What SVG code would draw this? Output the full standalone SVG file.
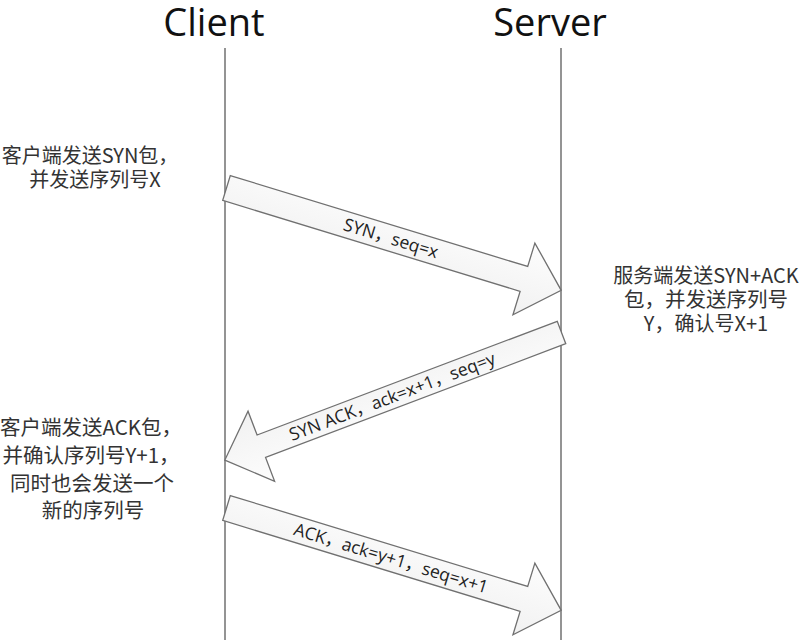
<svg xmlns="http://www.w3.org/2000/svg" width="802" height="640" viewBox="0 0 802 640">
<defs>
<linearGradient id="g" x1="0" y1="0" x2="0" y2="1">
<stop offset="0" stop-color="#fdfdfd"/>
<stop offset="1" stop-color="#f1f1f1"/>
</linearGradient>
<style>
.life{stroke:#707070;stroke-width:1.5;fill:none}
.arrow{fill:url(#g);stroke:#707070;stroke-width:1.3;stroke-linejoin:miter}
.title{font-family:"Open Sans","Liberation Sans",sans-serif;font-size:38px;fill:#111;text-anchor:middle}
.lbl{font-family:"Open Sans","Noto Sans CJK SC",sans-serif;font-size:17.5px;fill:#222;text-anchor:middle}
.note{font-family:"Noto Sans CJK SC",sans-serif;fill:#333;text-anchor:middle}
</style>
</defs>
<rect width="802" height="640" fill="#fff"/>
<g id="client">
<text class="title" x="214" y="36">Client</text>
<line class="life" x1="225" y1="48" x2="225" y2="640"/>
</g>
<g id="server">
<text class="title" x="550" y="36">Server</text>
<line class="life" x1="561" y1="48" x2="561" y2="640"/>
</g>
<g id="connectors">
<g id="syn" transform="translate(226.5,188) rotate(17)">
<path class="arrow" d="M0,-13 L311,-13 L311,-37.5 L350,0 L311,37.5 L311,13 L0,13 Z"/>
<text class="lbl" x="172" y="6">SYN，seq=x</text>
</g>
<g id="synack" transform="translate(561.5,332.5) rotate(159.25)">
<path class="arrow" d="M0,-12 L321,-12 L321,-37.5 L360,0 L321,37.5 L321,12 L0,12 Z"/>
<text class="lbl" transform="translate(181,0) rotate(180)" x="0" y="6">SYN ACK，ack=x+1，seq=y</text>
</g>
<g id="ack" transform="translate(226.5,508) rotate(17)">
<path class="arrow" d="M0,-13 L311,-13 L311,-37.5 L350,0 L311,37.5 L311,13 L0,13 Z"/>
<text class="lbl" x="172" y="6">ACK，ack=y+1，seq=x+1</text>
</g>
</g>
<g id="note-client-syn">
<text class="note" font-size="20" x="90" y="163">客户端发送SYN包，</text>
<text class="note" font-size="20" x="95" y="187">并发送序列号X</text>
</g>
<g id="note-server">
<text class="note" font-size="20" x="706" y="283">服务端发送SYN+ACK</text>
<text class="note" font-size="20.5" x="706" y="307">包，并发送序列号</text>
<text class="note" font-size="20" x="706" y="331">Y，确认号X+1</text>
</g>
<g id="note-client-ack">
<text class="note" font-size="20.5" x="91" y="435">客户端发送ACK包，</text>
<text class="note" font-size="20.5" x="91" y="463">并确认序列号Y+1，</text>
<text class="note" font-size="20.5" x="92" y="491">同时也会发送一个</text>
<text class="note" font-size="20.5" x="93" y="518">新的序列号</text>
</g>
</svg>
